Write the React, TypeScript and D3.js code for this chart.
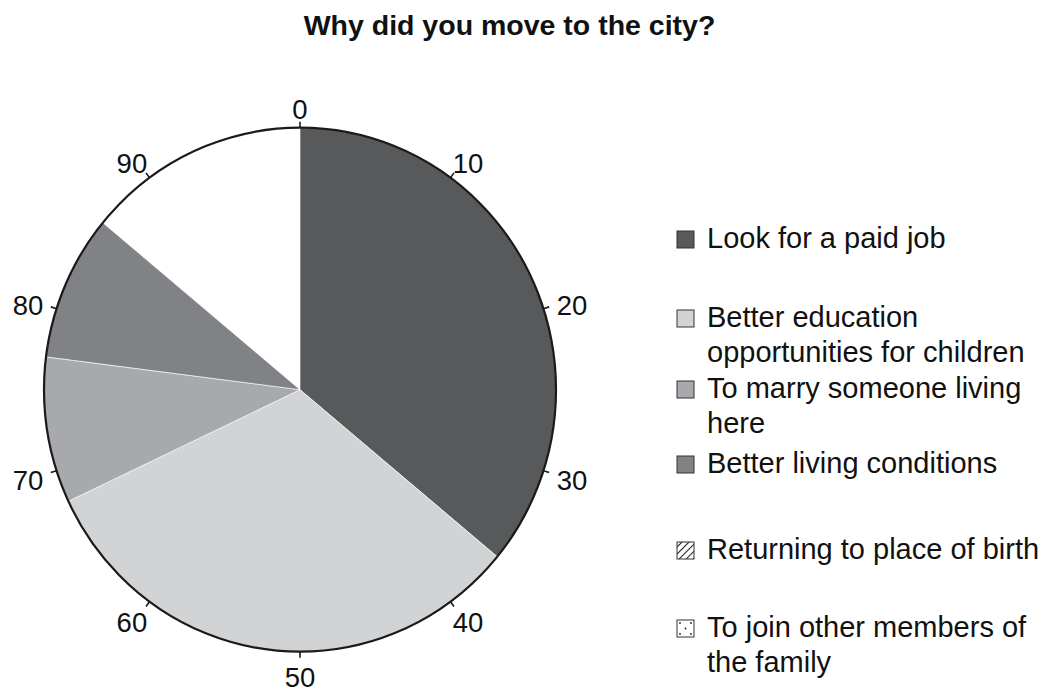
import React from "react";
import * as d3 from "d3";

const TITLE = "Why did you move to the city?";
const categories = [
  "Look for a paid job",
  "Better education\nopportunities for children",
  "To marry someone living\nhere",
  "Better living conditions",
  "Returning to place of birth",
  "To join other members of\nthe family",
];
const values = [36, 32, 9, 9, 0, 0];
const fills = ["#58595b", "#d1d3d4", "#a7a9ac", "#808285", "url(#hatch)", "url(#dots)"];
const tickValues = [0, 10, 20, 30, 40, 50, 60, 70, 80, 90];
const TOTAL = 100;

// layout
const W = 1049, H = 691;
const CX = 300, CY = 389.7, RX = 256, RY = 262;
const legendBaselines = [248, 327, 398, 473, 559, 637];
const FONT = "'Liberation Sans', Arial, sans-serif";

export default function App() {
  const angle = d3.scaleLinear().domain([0, TOTAL]).range([0, 2 * Math.PI]);
  const pie = d3
    .pie<number>()
    .sort(null)
    .value((d) => d)
    .startAngle(0)
    .endAngle(angle(d3.sum(values)));
  const arcs = pie(values);
  const arcGen = d3.arc<d3.PieArcDatum<number>>().innerRadius(0).outerRadius(RX);

  return (
    <svg
      width={W}
      height={H}
      style={{ position: "absolute", left: 0, top: 0, background: "#fff" }}
      fontFamily={FONT}
    >
      <defs>
        <pattern id="hatch" patternUnits="userSpaceOnUse" width="5" height="5" patternTransform="rotate(45)">
          <rect width="5" height="5" fill="#fff" />
          <line x1="0" y1="0" x2="0" y2="5" stroke="#222" strokeWidth="2" />
        </pattern>
        <pattern id="dots" patternUnits="userSpaceOnUse" width="18" height="18">
          <rect width="18" height="18" fill="#fff" />
        </pattern>
      </defs>
      <rect width={W} height={H} fill="#fff" />
      <text x={509.5} y={35} textAnchor="middle" fontWeight="bold" fontSize={28.5} fill="#111">
        {TITLE}
      </text>

      <g transform={`translate(${CX},${CY}) scale(1,${RY / RX})`}>
        <circle r={RX} fill="#fff" />
        {arcs.map((a, i) =>
          a.value > 0 ? (
            <path
              key={i}
              d={arcGen(a) || ""}
              fill={fills[i]}
              stroke="#fff"
              strokeWidth={0.6}
              vectorEffect="non-scaling-stroke"
            />
          ) : null
        )}
        <circle r={RX} fill="none" stroke="#1a1a1a" strokeWidth={2.2} vectorEffect="non-scaling-stroke" />
      </g>

      {tickValues.map((t) => {
        const th = angle(t);
        const s = Math.sin(th), c = Math.cos(th);
        const x1 = CX + RX * s, y1 = CY - RY * c;
        const x2 = CX + (RX + 6) * s, y2 = CY - (RY + 6) * c;
        const lx = CX + (RX + 30) * s;
        const ly = CY - (RY + 22) * c + 3;
        return (
          <g key={t}>
            <line x1={x1} y1={y1} x2={x2} y2={y2} stroke="#1a1a1a" strokeWidth={1.6} />
            <text x={lx} y={ly} dy="0.36em" textAnchor="middle" fontSize={27.5} fill="#111">
              {t}
            </text>
          </g>
        );
      })}

      {categories.map((cat, i) => {
        const by = legendBaselines[i];
        const lines = cat.split("\n");
        return (
          <g key={cat}>
            <rect x={677} y={by - 17} width={17} height={17} fill={fills[i]} stroke="#333" strokeWidth={1} />
            {i === 5 &&
              [
                [3, 3],
                [14, 3],
                [8.5, 8.5],
                [3, 14],
                [14, 14],
              ].map(([dx, dy], k) => (
                <circle key={k} cx={677 + dx} cy={by - 17 + dy} r={0.9} fill="#222" />
              ))}
            <text x={707} y={by} fontSize={29} fill="#111">
              {lines.map((l, k) => (
                <tspan key={k} x={707} dy={k === 0 ? 0 : 35}>
                  {l}
                </tspan>
              ))}
            </text>
          </g>
        );
      })}
    </svg>
  );
}
